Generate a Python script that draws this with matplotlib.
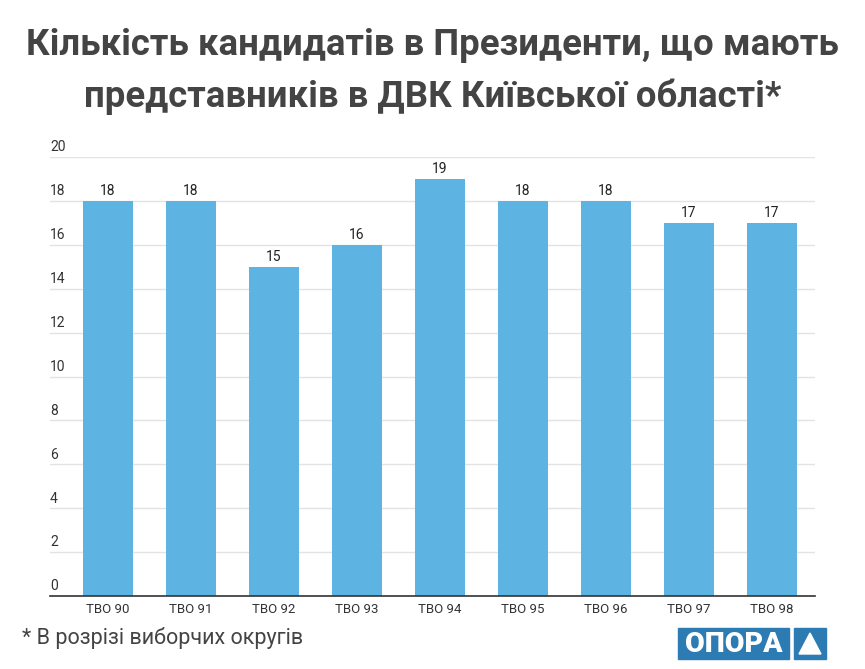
import matplotlib
matplotlib.use("Agg")
import matplotlib.pyplot as plt
from matplotlib.patches import Rectangle, Polygon

plt.rcParams['font.family'] = ['Roboto', 'DejaVu Sans']

districts = ["ТВО 90", "ТВО 91", "ТВО 92", "ТВО 93", "ТВО 94", "ТВО 95", "ТВО 96", "ТВО 97", "ТВО 98"]
counts = [18, 18, 15, 16, 19, 18, 18, 17, 17]
yticks = [0, 2, 4, 6, 8, 10, 12, 14, 16, 18, 20]

W, H = 865, 669
fig = plt.figure(figsize=(W / 100, H / 100), dpi=100)

# axes box in pixels: left 50, right 815, bottom (0) at 596, top (20) at 157
ax = fig.add_axes([50 / W, 1 - 596 / H, 765 / W, (596 - 157) / H])
x = list(range(len(counts)))
ax.bar(x, counts, width=0.6, color="#5db4e3", zorder=2)
ax.set_xlim(-0.7, 8.52)
ax.set_ylim(0, 20)

for i, v in zip(x, counts):
    ax.text(i, v + 0.12, str(v), ha="center", va="bottom", fontsize=10, color="#222222")

ax.set_yticks(yticks)
ax.set_yticklabels([])
ax.tick_params(axis="y", length=0)
ax.grid(axis="y", color="#e3e3e3", linewidth=1, zorder=0)
for t in yticks:
    ax.text(0.0, t + 0.12, str(t), transform=ax.get_yaxis_transform(),
            ha="left", va="bottom", fontsize=10, color="#333333")

ax.set_xticks(x)
ax.set_xticklabels(districts, fontsize=9.5, color="#333333")
ax.tick_params(axis="x", length=0, pad=5)
for s in ["top", "right", "left"]:
    ax.spines[s].set_visible(False)
ax.spines["bottom"].set_color("#333333")
ax.spines["bottom"].set_linewidth(1.2)
ax.spines["bottom"].set_zorder(3)

fig.text(0.5, 1 - 45 / H, "Кількість кандидатів в Президенти, що мають",
         ha="center", va="center", fontsize=26.3, fontweight="bold", color="#444444")
fig.text(0.5, 1 - 97 / H, "представників в ДВК Київської області*",
         ha="center", va="center", fontsize=26.3, fontweight="bold", color="#444444")
fig.text(22 / W, 1 - 638 / H, "* В розрізі виборчих округів",
         ha="left", va="center", fontsize=15.5, color="#444444")

# logo
logo_blue = "#2c7bb3"
fig.patches.append(Rectangle((678 / W, 1 - 659 / H), 111 / W, 31 / H,
                             transform=fig.transFigure, color=logo_blue))
fig.patches.append(Rectangle((794 / W, 1 - 659 / H), 32 / W, 31 / H,
                             transform=fig.transFigure, color=logo_blue))
fig.patches.append(Polygon([(799 / W, 1 - 654 / H), (821 / W, 1 - 654 / H), (810 / W, 1 - 633 / H)],
                           closed=True, transform=fig.transFigure, color="white"))
fig.text(733.5 / W, 1 - 644 / H, "ОПОРА", ha="center", va="center",
         fontsize=20.5, fontweight="black", color="white", family=["Roboto", "DejaVu Sans"])

fig.savefig("out.png", dpi=100)
